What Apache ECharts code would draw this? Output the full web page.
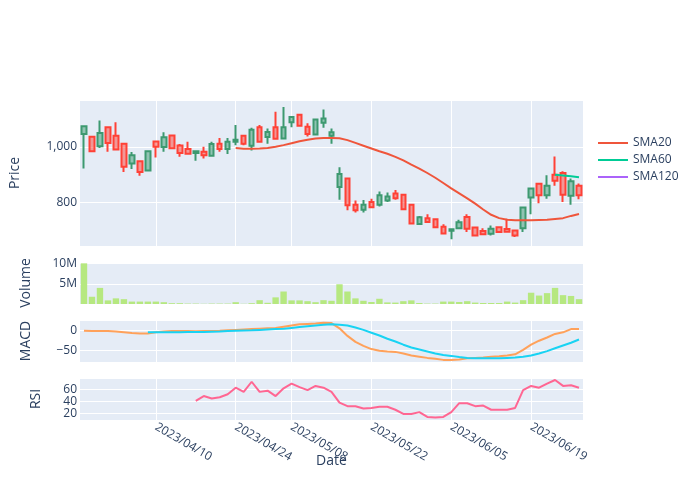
<!DOCTYPE html>
<html>
<head>
<meta charset="utf-8">
<script src="https://cdn.jsdelivr.net/npm/echarts@6/dist/echarts.min.js"></script>
<style>html,body{margin:0;padding:0;background:#fff}#c{width:700px;height:500px}</style>
</head>
<body>
<div id="c"></div>
<script>
const dates = ["2023/03/28","2023/03/29","2023/03/30","2023/03/31","2023/04/03","2023/04/04","2023/04/05","2023/04/06","2023/04/07","2023/04/10",
"2023/04/11","2023/04/12","2023/04/13","2023/04/14","2023/04/17","2023/04/18","2023/04/19","2023/04/20","2023/04/21","2023/04/24",
"2023/04/25","2023/04/26","2023/04/27","2023/04/28","2023/05/01","2023/05/02","2023/05/08","2023/05/09","2023/05/10","2023/05/11",
"2023/05/12","2023/05/15","2023/05/16","2023/05/17","2023/05/18","2023/05/19","2023/05/22","2023/05/23","2023/05/24","2023/05/25",
"2023/05/26","2023/05/29","2023/05/30","2023/05/31","2023/06/01","2023/06/02","2023/06/05","2023/06/06","2023/06/07","2023/06/08",
"2023/06/09","2023/06/12","2023/06/13","2023/06/14","2023/06/15","2023/06/16","2023/06/19","2023/06/20","2023/06/21","2023/06/22",
"2023/06/23","2023/06/26","2023/06/27"];
const tickLabels = ["2023/04/10","2023/04/24","2023/05/08","2023/05/22","2023/06/05","2023/06/19"];

const open = [1046,1036,1002,1070,1040,1011,940,948,915,1019,999,1041,1005,992,978,982,968,1011,992,1018,
1040,1004,1070,1035,1070,1030,1088,1115,1072,1044,1086,1040,856,886,792,774,802,792,807,832,
828,792,723,744,740,713,699,708,748,710,698,688,711,705,700,708,818,867,826,900,906,824,860];
const close = [1074,984,1050,1014,990,928,970,910,984,1000,1034,995,978,975,984,970,1010,992,1018,1025,
1011,1061,1018,1053,1029,1070,1107,1076,1046,1098,1102,1052,902,790,772,792,783,826,822,815,
776,725,747,730,711,689,704,729,706,682,686,706,694,695,682,782,850,826,860,878,828,876,826];
const high = [1075,1038,1094,1070,1088,1012,981,950,986,1020,1052,1042,1010,1018,984,1000,1018,1032,1032,1078,
1040,1068,1078,1066,1126,1143,1107,1115,1085,1098,1134,1066,927,886,807,809,814,840,836,845,
828,792,752,758,740,722,704,738,758,710,708,718,711,742,700,782,850,867,898,965,912,886,868];
const low = [922,982,996,982,990,910,920,896,913,962,982,994,964,975,950,958,964,982,974,1006,
1006,987,1018,1011,1025,1030,1070,1076,1037,1044,1068,1011,810,772,764,764,783,786,802,810,
776,721,723,730,711,689,668,708,694,682,686,682,694,695,676,694,758,797,814,860,802,792,812];
const volume = [10.1,1.8,4.0,0.9,1.4,1.2,0.6,0.6,0.6,0.6,0.45,0.2,0.2,0.1,0.1,0.05,0.1,0.1,0.1,0.45,
0.05,0.2,0.95,0.3,1.65,3.1,0.9,0.9,0.7,0.45,0.95,0.8,4.9,3.1,1.4,0.8,0.5,1.3,0.4,0.35,
0.7,0.9,0.25,0.1,0.1,0.6,0.6,0.5,0.7,0.35,0.25,0.25,0.25,0.6,0.35,0.95,2.8,2.1,2.7,4.0,2.2,2.0,1.2];
const sma20 = [null,null,null,null,null,null,null,null,null,null,null,null,null,null,null,null,null,null,null,
996,993,993,994,996,1000,1006,1013,1020,1025,1030,1032,1032,1031,1024,1014,1004,994,984,975,964,
951,936,922,906,889,870,851,833,815,796,775,756,744,738,736,736,736,737,738,741,744,752,759];
const sma60 = [null,null,null,null,null,null,null,null,null,null,null,null,null,null,null,null,null,null,null,null,
null,null,null,null,null,null,null,null,null,null,null,null,null,null,null,null,null,null,null,null,
null,null,null,null,null,null,null,null,null,null,null,null,null,null,null,null,null,null,null,900,897,894,891];
const sma120 = [];
const macd = [0,-1,-0.5,-1,-2,-4,-6,-7,-7,-4,-2,-1,-1,-1,-1.5,-1,-0.5,0,1,2,
3,4,5,6,7,10,13,16,17,18,20,19,6,-13,-28,-38,-46,-50,-52,-53,
-57,-62,-65,-68,-70,-73,-73,-72,-69,-68,-67,-65,-64,-62,-59,-48,-35,-25,-17,-8,-4,4,4];
const signal = [null,null,null,null,null,null,null,null,-4,-4,-4,-4,-4,-3.5,-3,-3,-2.5,-2,-1,0,
0.5,1,2,3,4,5,7,9,11,13,15,16,15,13,8,2,-5,-12,-20,-27,
-35,-42,-47,-52,-57,-61,-63,-66,-68,-69,-69,-69,-69,-68,-67,-65,-62,-57,-51,-44,-37,-30,-22];
const rsi = [null,null,null,null,null,null,null,null,null,null,null,null,null,null,41,49,45,47,52,63,
56,73,56,58,49,62,70,64,59,66,63,56,38,32,32,28,29,31,31,26,
19,19,22,14,13,14,22,37,37,32,33,26,26,26,29,59,66,63,70,76,66,67,63];

const FONT = '"Open Sans", verdana, arial, sans-serif';
const TXT = '#2a3f5f';
const BG = '#E5ECF6';
const L = 80, R = 117;
const grids = [
  {top: 100, height: 146},
  {top: 262, height: 42},
  {top: 320, height: 42},
  {top: 378, height: 42}
].map(g => Object.assign({left: L, right: R, show: true, backgroundColor: BG, borderWidth: 0, containLabel: false}, g));

const isTick = (i, v) => tickLabels.indexOf(v) >= 0;
const xAxes = grids.map((g, gi) => ({
  type: 'category', gridIndex: gi, data: dates, boundaryGap: true,
  axisLine: {show: false}, axisTick: {show: false},
  axisLabel: {show: gi === 3, interval: isTick, rotate: -30, color: TXT, fontSize: 12, fontFamily: FONT, margin: 6},
  splitLine: {show: gi !== 1, interval: isTick, alignWithLabel: true, lineStyle: {color: '#fff', width: 1}},
  name: gi === 3 ? 'Date' : '', nameLocation: 'middle', nameGap: 34, nameMoveOverlap: false,
  nameTextStyle: {color: TXT, fontSize: 14, fontFamily: FONT}
}));

function yAx(gi, min, max, split, name, gap, fmt) {
  return {
    type: 'value', gridIndex: gi, min: min, max: max, splitNumber: split, scale: true,
    axisLine: {show: false}, axisTick: {show: false},
    axisLabel: {color: TXT, fontSize: 12, fontFamily: FONT, margin: 3, showMinLabel: false, showMaxLabel: false, formatter: fmt},
    splitLine: {lineStyle: {color: '#fff', width: 1}},
    name: name, nameLocation: 'middle', nameRotate: 90, nameGap: gap, nameMoveOverlap: false,
    nameTextStyle: {color: TXT, fontSize: 14, fontFamily: FONT}
  };
}
const minus = v => v < 0 ? '\u2212' + Math.abs(v) : String(v);
const yAxes = [
  yAx(0, 644, 1168, 3, 'Price', 58, v => v.toLocaleString('en-US')),
  yAx(1, 0, 10.43e6, 2, 'Volume', 47, v => v === 0 ? '0' : (v / 1e6) + 'M'),
  yAx(2, -78.3, 26.8, 2, 'MACD', 47, minus),
  yAx(3, 8.8, 79.3, 3, 'RSI', 37, minus)
];

const candleData = dates.map((d, i) => [open[i], close[i], low[i], high[i]]);
const line = (name, data, color, xi) => ({
  name: name, type: 'line', data: data, xAxisIndex: xi, yAxisIndex: xi,
  symbol: 'none', showSymbol: false, connectNulls: false,
  lineStyle: {color: color, width: 2}, itemStyle: {color: color}, z: 3
});

const option = {
  animation: false,
  backgroundColor: '#fff',
  textStyle: {fontFamily: FONT},
  grid: grids,
  xAxis: xAxes,
  yAxis: yAxes,
  legend: {
    data: ['SMA20', 'SMA60', 'SMA120'], orient: 'vertical', left: 598, top: 137,
    icon: 'path://M0,0H30V2H0Z', symbolKeepAspect: true,
    itemWidth: 30, itemHeight: 14, itemGap: 5, padding: 0,
    textStyle: {color: TXT, fontSize: 12, fontFamily: FONT}
  },
  series: [
    {
      name: 'Price', type: 'candlestick', data: candleData, xAxisIndex: 0, yAxisIndex: 0,
      barWidth: 5,
      itemStyle: {
        color: 'rgba(61,153,112,0.5)', color0: 'rgba(255,65,54,0.5)',
        borderColor: '#3D9970', borderColor0: '#FF4136', borderWidth: 2
      }
    },
    line('SMA20', sma20, '#EF553B', 0),
    line('SMA60', sma60, '#00CC96', 0),
    line('SMA120', sma120, '#AB63FA', 0),
    {
      name: 'Volume', type: 'bar', data: volume.map(v => v * 1e6), xAxisIndex: 1, yAxisIndex: 1,
      barWidth: '80%', itemStyle: {color: '#B6E880'}
    },
    line('MACD', macd, '#FFA15A', 2),
    line('Signal', signal, '#19D3F3', 2),
    line('RSI', rsi, '#FF6692', 3)
  ]
};
const chart = echarts.init(document.getElementById('c'), null, {renderer: 'canvas'});
chart.setOption(option);
</script>
</body>
</html>
